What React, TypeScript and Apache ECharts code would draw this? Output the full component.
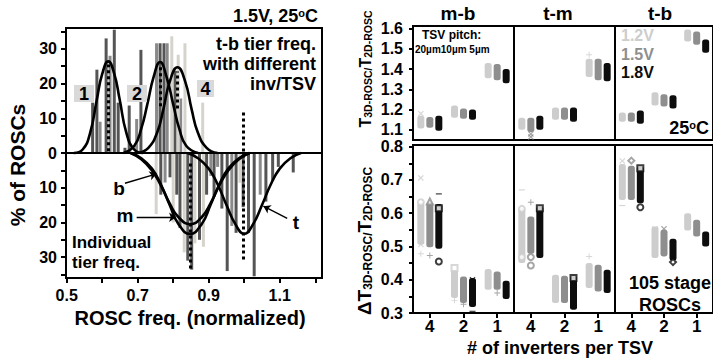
import React, { useEffect, useRef } from 'react';
import * as echarts from 'echarts';

const FONT = '"Liberation Sans", Arial, sans-serif';

// ---------- Left chart: histogram of ROSC frequency (normalized) ----------
// [x, % of ROSCs]; positive = t-b tier freq. (inv/TSV), negative = individual tier freq.
const histDark = [
  [0.573, 14.5], [0.585, 24], [0.611, 33], [0.634, 35.5], [0.645, 14.5], [0.664, 1.5], [0.676, 13.7],
  [0.709, 29.7], [0.763, 31.6], [0.774, 31.6], [0.805, 23.7],
  [0.765, -12], [0.791, -7], [0.81, -12], [0.819, -21.6], [0.841, -31], [0.852, -33.6], [0.874, -25],
  [0.894, -12], [0.915, -12.6], [0.937, -16], [0.952, -34], [0.977, -23], [0.997, -15.6], [1.012, -23],
  [1.028, -35.5], [1.061, -14], [1.08, -8], [1.096, -4], [1.138, -5.6],
];
const histMedium = [
  [0.594, 9], [0.622, 28], [0.697, 9.8], [0.753, 31.6], [0.783, 31.6], [0.821, 15.7],
  [0.777, -8.5], [0.906, -6.6], [0.925, -4], [0.965, -21], [1.045, -12],
];
const histLight = [
  [0.796, 33.6], [0.814, 28.3], [0.833, 31.6], [0.883, 14.5],
  [0.752, -17.6], [0.8, -20], [0.831, -28.6], [0.861, -26], [0.885, -27], [0.988, -8.6],
];

// Fitted distributions
const fit1 = [[0.52, 0], [0.545, 1], [0.566, 5.8], [0.585, 15.5], [0.6, 22.8], [0.617, 26.4], [0.634, 22.8], [0.649, 15.5], [0.668, 5.8], [0.69, 1], [0.715, 0]];
const fit2 = [[0.66, 0], [0.69, 2], [0.71, 7], [0.727, 14], [0.745, 22], [0.763, 26.2], [0.781, 22], [0.8, 14], [0.817, 7], [0.837, 2], [0.87, 0]];
const fit4 = [[0.7, 0], [0.73, 1.5], [0.755, 6], [0.772, 12.5], [0.79, 20.5], [0.812, 24.7], [0.834, 20.5], [0.852, 12.5], [0.869, 6], [0.894, 1.5], [0.925, 0]];
const fitB = [[0.68, 0], [0.71, -1.8], [0.74, -5], [0.765, -9.3], [0.79, -14.5], [0.815, -18.5], [0.848, -20.5], [0.88, -18.5], [0.905, -14.5], [0.93, -9.3], [0.955, -5], [0.985, -1.8], [1.015, 0]];
const fitM = [[0.68, 0], [0.71, -1.5], [0.74, -4.5], [0.765, -9], [0.79, -15], [0.815, -20.5], [0.847, -23.3], [0.88, -20.5], [0.905, -15], [0.93, -9], [0.955, -4.5], [0.985, -1.5], [1.015, 0]];
const fitT = [[0.84, 0], [0.87, -1.5], [0.9, -4.5], [0.925, -9], [0.95, -15], [0.975, -20.5], [1.0, -23.3], [1.025, -20.5], [1.05, -15], [1.075, -9], [1.1, -4.5], [1.13, -1.5], [1.16, 0]];

// Mean markers: [x, from %, to %]
const meanLines = [[0.617, 0.5, 25.5], [0.763, 13.5, 25], [0.812, 12.8, 23.5], [0.997, 11.7, -31.5], [0.848, -3, -33.5]];
// Arrows: [x0, y0, x1, y1]
const arrows = [[0.664, -8.7, 0.753, -6], [0.697, -18.5, 0.808, -18.5], [1.121, -18.8, 1.054, -15.3]];

const leftXTicks = [0.5, 0.6, 0.7, 0.8, 0.9, 1.0, 1.1, 1.2];
const leftXLabels = [0.5, 0.7, 0.9, 1.1];
const leftYTicks = [-35, -30, -25, -20, -15, -10, -5, 0, 5, 10, 15, 20, 25, 30, 35];
const leftYLabels = [-30, -20, -10, 0, 10, 20, 30];

// ---------- Right chart ----------
const cats = ['4', '2', '1'];
const panels = ['m-b', 't-m', 't-b'];
const volts = ['1.2V', '1.5V', '1.8V'];
const voltColors = ['#cdcdcd', '#8e8e8e', '#0d0d0d'];

// T3D/T2D ranges [low, high] per category
const mbRatio12 = [[1.107, 1.17], [1.16, 1.22], [1.355, 1.43]];
const mbRatio15 = [[1.11, 1.164], [1.155, 1.205], [1.345, 1.425]];
const mbRatio18 = [[1.095, 1.17], [1.15, 1.2], [1.33, 1.4]];
const tmRatio12 = [[1.1, 1.16], [1.15, 1.21], [1.36, 1.45]];
const tmRatio15 = [[1.09, 1.16], [1.15, 1.21], [1.345, 1.45]];
const tmRatio18 = [[1.1, 1.17], [1.14, 1.21], [1.34, 1.43]];
const tbRatio12 = [[1.14, 1.185], [1.22, 1.285], [1.535, 1.595]];
const tbRatio15 = [[1.14, 1.185], [1.215, 1.275], [1.52, 1.585]];
const tbRatio18 = [[1.13, 1.195], [1.205, 1.27], [1.48, 1.545]];

// dT3D/T2D ranges [low, high] per category
const mbDelta12 = [[0.505, 0.633], [0.345, 0.43], [0.37, 0.432]];
const mbDelta15 = [[0.498, 0.633], [0.33, 0.41], [0.37, 0.425]];
const mbDelta18 = [[0.493, 0.628], [0.318, 0.405], [0.342, 0.397]];
const tmDelta12 = [[0.45, 0.615], [0.33, 0.415], [0.375, 0.45]];
const tmDelta15 = [[0.478, 0.59], [0.33, 0.412], [0.365, 0.445]];
const tmDelta18 = [[0.465, 0.62], [0.31, 0.412], [0.36, 0.43]];
const tbDelta12 = [[0.64, 0.748], [0.465, 0.56], [0.548, 0.6]];
const tbDelta15 = [[0.64, 0.743], [0.47, 0.55], [0.53, 0.58]];
const tbDelta18 = [[0.63, 0.74], [0.458, 0.523], [0.5, 0.545]];

// Outlier markers: [category index, value, voltage index, marker]
const mbRatioOut = [[0, 1.18, 0, 'x']];
const tmRatioOut = [[0, 1.065, 1, 'x'], [0, 1.08, 1, 'x'], [2, 1.47, 0, '+']];
const tbRatioOut: any[] = [];
const mbDeltaOut = [[0, 0.706, 0, 'x'], [0, 0.633, 0, 'o'], [0, 0.506, 0, 'x'], [0, 0.478, 0, '+'], [0, 0.635, 1, 'tri'], [0, 0.473, 1, '+'], [0, 0.658, 2, '-'], [0, 0.455, 2, 'o'], [0, 0.615, 2, 'sq'], [1, 0.435, 0, 'sq'], [1, 0.338, 0, '+'], [1, 0.326, 1, '+'], [1, 0.4, 2, 'x'], [1, 0.305, 2, '-'], [2, 0.36, 1, '+']];
const tmDeltaOut = [[0, 0.67, 0, '-'], [0, 0.613, 0, 'o'], [0, 0.468, 0, 'o'], [0, 0.633, 1, '+'], [0, 0.443, 1, 'o'], [0, 0.468, 1, 'o'], [0, 0.593, 2, 'x'], [0, 0.615, 2, 'sq'], [1, 0.405, 2, 'sq'], [2, 0.47, 0, '+']];
const tbDeltaOut = [[0, 0.757, 0, 'x'], [0, 0.623, 0, '-'], [0, 0.758, 1, 'dia'], [0, 0.618, 2, 'o'], [0, 0.735, 2, 'sq'], [1, 0.553, 0, 'x'], [1, 0.553, 1, 'x'], [1, 0.453, 2, 'dia']];

const ratioTicks = [1.1, 1.2, 1.3, 1.4, 1.5, 1.6];
const deltaTicks = [0.3, 0.35, 0.4, 0.45, 0.5, 0.55, 0.6, 0.65, 0.7, 0.75, 0.8];
const deltaLabels = [0.3, 0.4, 0.5, 0.6, 0.7, 0.8];

const SYM: Record<string, string> = {
  x: 'path://M0,1.4L1.4,0L5,3.6L8.6,0L10,1.4L6.4,5L10,8.6L8.6,10L5,6.4L1.4,10L0,8.6L3.6,5Z',
  '+': 'path://M4.2,0H5.8V4.2H10V5.8H5.8V10H4.2V5.8H0V4.2H4.2Z',
  '-': 'path://M0,4H10V6H0Z',
  o: 'emptyCircle',
  sq: 'emptyRect',
  dia: 'emptyDiamond',
  tri: 'emptyTriangle',
};

function buildOption() {
  const bold = { fontFamily: FONT, fontWeight: 'bold' as const, color: '#000' };
  const black2 = { color: '#000', width: 2 };

  const grids: any[] = [
    { left: 66, top: 28, width: 256, height: 250 },
    { left: 413, top: 26, width: 101, height: 114 },
    { left: 514, top: 26, width: 101, height: 114 },
    { left: 615, top: 26, width: 101, height: 114 },
    { left: 413, top: 145, width: 101, height: 168 },
    { left: 514, top: 145, width: 101, height: 168 },
    { left: 615, top: 145, width: 101, height: 168 },
  ].map((g) => ({ ...g, show: true, borderColor: '#000', borderWidth: 2, backgroundColor: 'transparent' }));

  const xAxes: any[] = [
    {
      type: 'value', gridIndex: 0, min: 0.498, max: 1.219,
      axisLine: { show: true, onZero: false, lineStyle: black2 },
      axisTick: { show: true, customValues: leftXTicks, length: 5, lineStyle: black2 },
      axisLabel: { customValues: leftXLabels, formatter: (v: number) => v.toFixed(1), fontSize: 16, margin: 9, ...bold },
      splitLine: { show: false },
    },
  ];
  const yAxes: any[] = [
    {
      type: 'value', gridIndex: 0, min: -36, max: 36,
      axisLine: { show: true, onZero: false, lineStyle: black2 },
      axisTick: { show: true, customValues: leftYTicks, length: 5, lineStyle: black2 },
      axisLabel: { customValues: leftYLabels, formatter: (v: number) => String(Math.abs(v)), fontSize: 16, margin: 9, ...bold },
      splitLine: { show: false },
    },
  ];
  for (let i = 1; i <= 6; i++) {
    const bottom = i >= 4;
    xAxes.push({
      type: 'category', gridIndex: i, data: cats, boundaryGap: true,
      axisLine: { show: true, onZero: false, lineStyle: black2 },
      axisTick: { show: bottom, alignWithLabel: true, length: 5, lineStyle: black2 },
      axisLabel: { show: bottom, fontSize: 17, margin: 5, ...bold },
      splitLine: { show: false },
    });
    const first = i === 1 || i === 4;
    yAxes.push({
      type: 'value', gridIndex: i,
      min: bottom ? 0.3 : 1.05, max: bottom ? 0.805 : 1.612,
      show: first,
      axisLine: { show: true, onZero: false, lineStyle: black2 },
      axisTick: { show: true, customValues: bottom ? deltaTicks : ratioTicks, length: 4, lineStyle: black2 },
      axisLabel: { customValues: bottom ? deltaLabels : ratioTicks, formatter: (v: number) => v.toFixed(1), fontSize: 16, margin: 10, ...bold },
      splitLine: { show: false },
    });
  }

  const series: any[] = [];
  const barColors = ['#555555', '#8a8a8a', '#d5d3cb'];
  [histDark, histMedium, histLight].forEach((d, k) => {
    series.push({
      type: 'bar', xAxisIndex: 0, yAxisIndex: 0, data: d, barWidth: 3, barGap: '-100%',
      itemStyle: { color: barColors[k] }, silent: true,
      markLine: k === 0 ? {
        silent: true, symbol: 'none', label: { show: false },
        lineStyle: { color: '#000', width: 2, type: 'solid' },
        data: [{ yAxis: 0 }],
      } : undefined,
    });
  });
  [fit1, fit2, fit4, fitB, fitM, fitT].forEach((d, k) => {
    series.push({
      type: 'line', xAxisIndex: 0, yAxisIndex: 0, data: d, smooth: true,
      showSymbol: false, symbol: 'none', silent: true,
      lineStyle: { color: '#000', width: 2.6 },
      markLine: k === 0 ? {
        silent: true, symbol: 'none', label: { show: false },
        lineStyle: { color: '#000', width: 3, type: [3, 3] },
        data: meanLines.map(([x, a, b]) => [{ coord: [x, a] }, { coord: [x, b] }]),
      } : k === 1 ? {
        silent: true, symbol: ['none', 'arrow'], symbolSize: 7, label: { show: false },
        lineStyle: { color: '#000', width: 1.4, type: 'solid' },
        data: arrows.map(([x0, y0, x1, y1]) => [{ coord: [x0, y0] }, { coord: [x1, y1] }]),
      } : undefined,
    });
  });

  const ranges = [
    [mbRatio12, mbRatio15, mbRatio18], [tmRatio12, tmRatio15, tmRatio18], [tbRatio12, tbRatio15, tbRatio18],
    [mbDelta12, mbDelta15, mbDelta18], [tmDelta12, tmDelta15, tmDelta18], [tbDelta12, tbDelta15, tbDelta18],
  ];
  const outs = [mbRatioOut, tmRatioOut, tbRatioOut, mbDeltaOut, tmDeltaOut, tbDeltaOut];
  ranges.forEach((set, p) => {
    const ax = p + 1;
    set.forEach((data, vi) => {
      series.push({
        type: 'custom', xAxisIndex: ax, yAxisIndex: ax, silent: true,
        data: data.map((d, i) => [i, d[0], d[1]]),
        encode: { x: 0, y: [1, 2] },
        renderItem: (_params: any, api: any) => {
          const top = api.coord([api.value(0), api.value(2)]);
          const bot = api.coord([api.value(0), api.value(1)]);
          const w = 7;
          return {
            type: 'rect',
            shape: { x: top[0] + (vi - 1) * 9 - w / 2, y: top[1], width: w, height: bot[1] - top[1], r: 2.5 },
            style: { fill: voltColors[vi] },
          };
        },
      });
    });
    [0, 1, 2].forEach((vi) => {
      const pts = outs[p].filter((o: any) => o[2] === vi);
      if (!pts.length) return;
      series.push({
        type: 'scatter', xAxisIndex: ax, yAxisIndex: ax, silent: true,
        symbolSize: 6, symbolKeepAspect: true, symbolOffset: [(vi - 1) * 9, 0],
        itemStyle: { color: voltColors[vi], borderWidth: 0 },
        data: pts.map((o: any) => ({ value: [o[0], o[1]], symbol: SYM[o[3]] })),
      });
    });
  });

  const t = (text: string, x: number, y: number, size: number, align = 'center', extra: any = {}) => ({
    type: 'text', x, y, z: 100,
    style: { text, x: 0, y: 0, align, verticalAlign: 'middle', fontSize: size, fontFamily: FONT, fontWeight: 'bold', fill: '#000', ...extra },
  });
  const degRich = (size: number) => ({
    a: { fontSize: size, fontFamily: FONT, fontWeight: 'bold', fill: '#000', lineHeight: size + 2, verticalAlign: 'top' },
    s: { fontSize: Math.round(size * 0.6), fontFamily: FONT, fontWeight: 'bold', fill: '#000', lineHeight: 8, verticalAlign: 'top' },
  });
  const subRich = (main: number, sub: number) => ({
    m: { fontSize: main, fontFamily: FONT, fontWeight: 'bold', fill: '#000', lineHeight: main + 4, verticalAlign: 'bottom' },
    s: { fontSize: sub, fontFamily: FONT, fontWeight: 'bold', fill: '#000', lineHeight: 6, verticalAlign: 'bottom' },
  });

  const graphic: any[] = [
    // left chart annotations
    t('{a|1.5V, 25}{s|o}{a|C}', 318, 17, 18, 'right', { rich: degRich(18) }),
    t('t-b tier freq.', 316, 44, 18, 'right'),
    t('with different', 316, 64, 18, 'right'),
    t('inv/TSV', 316, 84, 18, 'right'),
    { type: 'rect', z: 90, shape: { x: 74, y: 85, width: 20, height: 17 }, style: { fill: '#d9d9d9' } },
    { type: 'rect', z: 90, shape: { x: 127, y: 85, width: 20, height: 17 }, style: { fill: '#d9d9d9' } },
    { type: 'rect', z: 90, shape: { x: 197, y: 80, width: 17, height: 17 }, style: { fill: '#d9d9d9' } },
    t('1', 84, 94, 18),
    t('2', 137, 94, 18),
    t('4', 205.5, 89, 18),
    t('b', 119, 188, 19),
    t('m', 125, 215, 19),
    t('t', 296, 222, 19),
    t('Individual', 72, 242, 17, 'left'),
    t('tier freq.', 72, 262, 17, 'left'),
    { ...t('% of ROSCs', 17, 165, 21), rotation: Math.PI / 2 },
    t('ROSC freq. (normalized)', 190, 318, 20),
    // right chart annotations
    t(panels[0], 458, 13, 19),
    t(panels[1], 558, 13, 19),
    t(panels[2], 660, 13, 19),
    t('TSV pitch:', 422, 35, 12, 'left'),
    t('20µm10µm 5µm', 415, 49, 10, 'left'),
    t(volts[0], 621, 35, 16, 'left', { fill: voltColors[0] }),
    t(volts[1], 621, 54, 16, 'left', { fill: voltColors[1] }),
    t(volts[2], 621, 72, 16, 'left', { fill: voltColors[2] }),
    t('{a|25}{s|o}{a|C}', 709, 129, 18, 'right', { rich: degRich(18) }),
    t('105 stage', 670, 283, 18),
    t('ROSCs', 670, 305, 18),
    t('# of inverters per TSV', 560, 348, 18),
    { ...t('{m|T}{s|3D-ROSC/}{m|T}{s|2D-ROSC}', 363, 69, 16, 'center', { rich: subRich(16, 10.5) }), rotation: Math.PI / 2 },
    { ...t('{m|ΔT}{s|3D-ROSC/}{m|T}{s|2D-ROSC}', 362, 241, 19, 'center', { rich: subRich(19, 12) }), rotation: Math.PI / 2 },
  ];

  return {
    animation: false,
    backgroundColor: '#fff',
    textStyle: { fontFamily: FONT },
    grid: grids,
    xAxis: xAxes,
    yAxis: yAxes,
    series,
    graphic,
  };
}

export default function App() {
  const ref = useRef<HTMLDivElement>(null);
  useEffect(() => {
    const chart = echarts.init(ref.current!, null, { renderer: 'svg' });
    chart.setOption(buildOption() as any);
    return () => chart.dispose();
  }, []);
  return (
    <div
      ref={ref}
      style={{ position: 'fixed', left: 0, top: 0, width: 713, height: 360, background: '#fff' }}
    />
  );
}
